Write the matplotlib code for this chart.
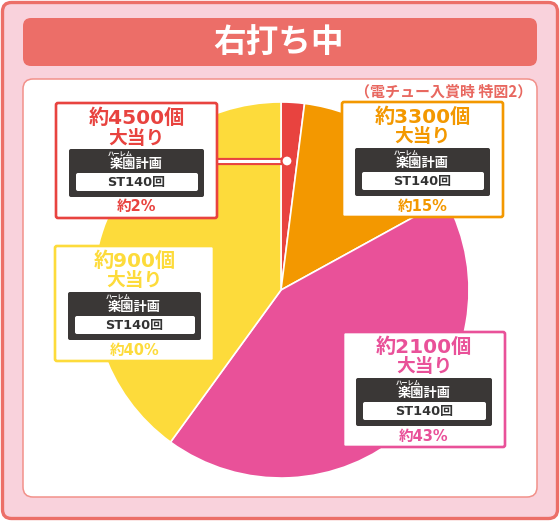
import matplotlib
matplotlib.use("Agg")
import matplotlib.pyplot as plt
from matplotlib.patches import FancyBboxPatch, Circle

# ---- data ----
title = "右打ち中"
note = "（電チュー入賞時 特図2）"
payouts = ["約4500個", "約3300個", "約2100個", "約900個"]
shares = [2, 15, 43, 40]
share_labels = ["約2%", "約15%", "約43%", "約40%"]
colors = ["#E8433F", "#F39800", "#E95199", "#FDDB3B"]
machine = "楽園計画"
ruby = "ハーレム"
st_label = "ST140回"
hit = "大当り"

W, H = 560, 523
fig = plt.figure(figsize=(W / 100, H / 100), dpi=100)

FAM = ["DejaVu Sans", "Noto Sans CJK JP"]
CJK = ["Noto Sans CJK JP", "DejaVu Sans"]

# background layer
bg = fig.add_axes([0, 0, 1, 1], zorder=0)
bg.set_xlim(0, W); bg.set_ylim(H, 0); bg.axis("off")
bg.add_patch(FancyBboxPatch((2.5, 2.5), W - 5, H - 7, boxstyle="round,pad=0,rounding_size=9",
                            fc="#F9D2DC", ec="#EC6F68", lw=2.4))
bg.add_patch(FancyBboxPatch((23, 18), 514, 48, boxstyle="round,pad=0,rounding_size=8",
                            fc="#EC6E68", ec="none"))
bg.text(W / 2 - 1, 42, title, color="white", fontsize=23.5, fontweight="bold",
        family=CJK, ha="center", va="center")
bg.add_patch(FancyBboxPatch((23, 79), 514, 418, boxstyle="round,pad=0,rounding_size=10",
                            fc="white", ec="#F2918A", lw=1.1))
bg.text(532, 91, note, color="#E8675F", fontsize=10.8, fontweight="bold",
        family=CJK, ha="right", va="center")

# pie layer
cx, cy, r = 281, 290, 188
pax = fig.add_axes([(cx - r) / W, (H - (cy + r)) / H, 2 * r / W, 2 * r / H], zorder=1)
pax.pie(shares, colors=colors, startangle=90, counterclock=False,
        wedgeprops=dict(edgecolor="white", linewidth=1.2))
pax.set_xlim(-1, 1); pax.set_ylim(-1, 1); pax.axis("off")

# overlay layer
ov = fig.add_axes([0, 0, 1, 1], zorder=2)
ov.set_xlim(0, W); ov.set_ylim(H, 0); ov.axis("off")

boxes = [(56, 217, 103), (342, 503, 102), (343, 505, 332), (55, 214, 246)]

# connector for the small slice
ov.plot([217, 287], [161, 161], color=colors[0], lw=5.2, solid_capstyle="butt", zorder=3)
ov.plot([217, 287], [161, 161], color="white", lw=2.2, solid_capstyle="butt", zorder=3.1)
ov.add_patch(Circle((287, 161), 5.5, fc="white", ec=colors[0], lw=1.6, zorder=3.2))

for i, (l, rr, t) in enumerate(boxes):
    c = colors[i]
    mx = (l + rr) / 2
    ov.add_patch(FancyBboxPatch((l, t), rr - l, 115, boxstyle="round,pad=0,rounding_size=2",
                                fc="white", ec=c, lw=1.9, zorder=4))
    ov.text(mx, t + 15, payouts[i], color=c, fontsize=14.5, fontweight="bold",
            family=FAM, ha="center", va="center", zorder=5)
    ov.text(mx, t + 35, hit, color=c, fontsize=13.5, fontweight="bold",
            family=CJK, ha="center", va="center", zorder=5)
    ov.add_patch(FancyBboxPatch((l + 13, t + 46), rr - l - 26, 48,
                                boxstyle="round,pad=0,rounding_size=2",
                                fc="#3A3736", ec="none", zorder=5))
    ov.add_patch(FancyBboxPatch((l + 20, t + 70), rr - l - 39, 18,
                                boxstyle="round,pad=0,rounding_size=2",
                                fc="white", ec="none", zorder=6))
    ov.text(mx, t + 61, machine, color="white", fontsize=9.5, fontweight="bold",
            family=CJK, ha="center", va="center", zorder=7)
    ov.text(mx - 16, t + 51, ruby, color="white", fontsize=4.5, fontweight="bold",
            family=CJK, ha="center", va="center", zorder=7)
    ov.text(mx, t + 79.5, st_label, color="#333333", fontsize=9.3, fontweight="bold",
            family=FAM, ha="center", va="center", zorder=7)
    ov.text(mx, t + 104, share_labels[i], color=c, fontsize=10.5, fontweight="bold",
            family=FAM, ha="center", va="center", zorder=5)

fig.savefig("out.png", dpi=100)
